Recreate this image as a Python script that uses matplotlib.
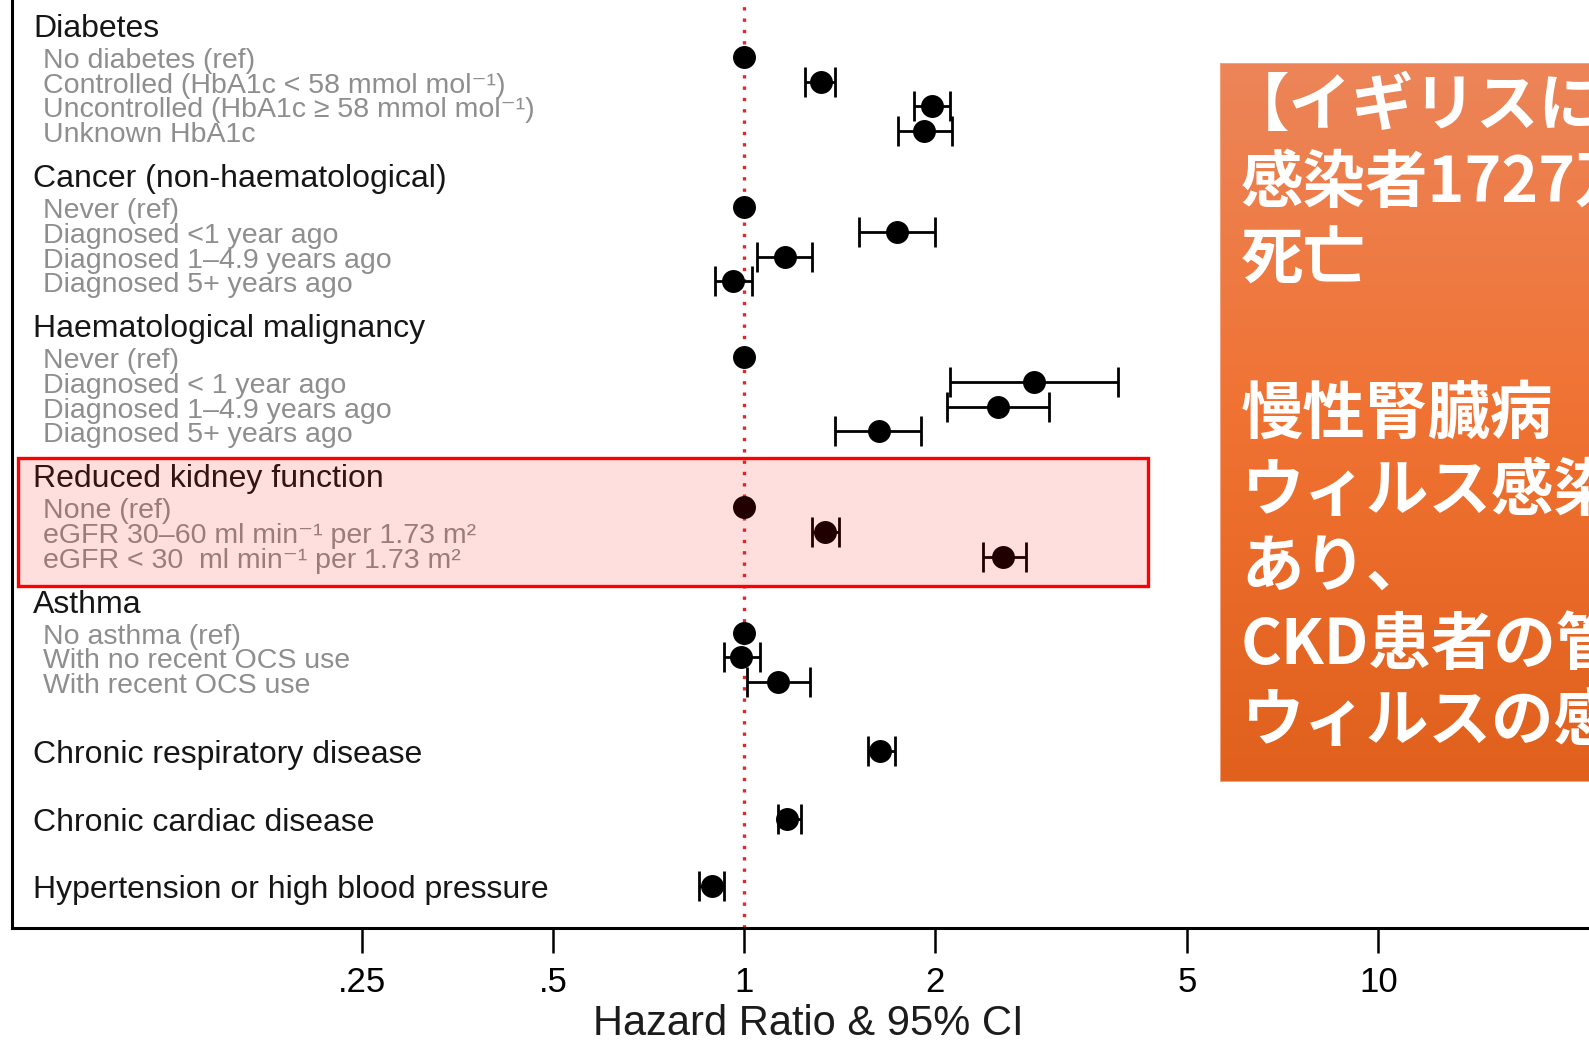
import numpy as np
import matplotlib
matplotlib.use('Agg')
import matplotlib.pyplot as plt
import matplotlib.transforms as mtransforms
from matplotlib.patches import Rectangle
from matplotlib.colors import LinearSegmentedColormap
from matplotlib.ticker import NullLocator

plt.rcParams['font.family'] = ['Liberation Sans', 'DejaVu Sans']

nan = np.nan

# hazard ratios and 95% CI per group (ref rows have no interval)
diabetes_labels = ['No diabetes (ref)', 'Controlled (HbA1c < 58 mmol mol⁻¹)',
                   'Uncontrolled (HbA1c ≥ 58 mmol mol⁻¹)', 'Unknown HbA1c']
diabetes_hr = [1.0, 1.32, 1.98, 1.92]
diabetes_lo = [nan, 1.25, 1.85, 1.75]
diabetes_hi = [nan, 1.39, 2.11, 2.13]

cancer_labels = ['Never (ref)', 'Diagnosed <1 year ago', 'Diagnosed 1–4.9 years ago',
                 'Diagnosed 5+ years ago']
cancer_hr = [1.0, 1.74, 1.16, 0.96]
cancer_lo = [nan, 1.52, 1.05, 0.90]
cancer_hi = [nan, 2.00, 1.28, 1.03]

haem_labels = ['Never (ref)', 'Diagnosed < 1 year ago', 'Diagnosed 1–4.9 years ago',
               'Diagnosed 5+ years ago']
haem_hr = [1.0, 2.86, 2.51, 1.63]
haem_lo = [nan, 2.11, 2.09, 1.39]
haem_hi = [nan, 3.88, 3.02, 1.90]

kidney_labels = ['None (ref)', 'eGFR 30–60 ml min⁻¹ per 1.73 m²',
                 'eGFR < 30  ml min⁻¹ per 1.73 m²']
kidney_hr = [1.0, 1.34, 2.56]
kidney_lo = [nan, 1.28, 2.38]
kidney_hi = [nan, 1.41, 2.78]

asthma_labels = ['No asthma (ref)', 'With no recent OCS use', 'With recent OCS use']
asthma_hr = [1.0, 0.99, 1.13]
asthma_lo = [nan, 0.93, 1.01]
asthma_hi = [nan, 1.06, 1.27]

group_titles = ['Diabetes', 'Cancer (non-haematological)', 'Haematological malignancy',
                'Reduced kidney function', 'Asthma']
single_labels = ['Chronic respiratory disease', 'Chronic cardiac disease',
                 'Hypertension or high blood pressure']
single_hr = [1.64, 1.17, 0.89]
single_lo = [1.57, 1.13, 0.85]
single_hi = [1.73, 1.23, 0.93]

xticks = [0.25, 0.5, 1, 2, 5, 10]
xtick_labels = ['.25', '.5', '1', '2', '5', '10']

jp_lines = ['【イギリスにおける研究】', '感染者1727万人のうち10926人が', '死亡', '',
            '慢性腎臓病', 'ウィルス感染による死亡リスク上昇', 'あり、',
            'CKD患者の管理には', 'ウィルスの感染予防が重要']

W, H = 1589, 1042
fig = plt.figure(figsize=(W / 100, H / 100), dpi=100)

# main axes, pixel-like y units (0 at top, 928 at the x axis)
ax_left, ax_bottom = 12, 928
ax = fig.add_axes([ax_left / W, 1 - ax_bottom / H, 1 - ax_left / W, ax_bottom / H])
ax.set_xscale('log')
ax.set_xlim(10 ** -1.1537, 10 ** 1.3318)
ax.set_ylim(ax_bottom, 0)
for s in ['top', 'right']:
    ax.spines[s].set_visible(False)
ax.spines['left'].set_linewidth(2.2)
ax.spines['bottom'].set_linewidth(2.2)
ax.set_yticks([])
ax.set_xticks(xticks)
ax.set_xticklabels(xtick_labels)
ax.xaxis.set_minor_locator(NullLocator())
ax.tick_params(axis='x', length=18, width=1.8, pad=9, labelsize=25)
for lab in ax.get_xticklabels():
    lab.set_family(['Liberation Sans Narrow', 'Liberation Sans'])

ax.axvline(1, color='#e8262a', lw=2.4, linestyle=(0, (1, 2.4)), zorder=1)

trans = mtransforms.blended_transform_factory(ax.transAxes, ax.transData)
hx = (33 - ax_left) / (W - ax_left)
sx = (43 - ax_left) / (W - ax_left)
head_color = '#161616'
sub_color = '#8e8e8e'
text_dy = 4


def draw_point(y, hr, lo, hi):
    ax.plot([hr], [y], 'o', color='black', ms=15.5, zorder=3)
    if not np.isnan(lo):
        ax.errorbar([hr], [y], xerr=[[hr - lo], [hi - hr]], fmt='none', ecolor='black',
                    elinewidth=2, capsize=11, capthick=2, zorder=3)


groups = [
    (diabetes_labels, diabetes_hr, diabetes_lo, diabetes_hi),
    (cancer_labels, cancer_hr, cancer_lo, cancer_hi),
    (haem_labels, haem_hr, haem_lo, haem_hi),
    (kidney_labels, kidney_hr, kidney_lo, kidney_hi),
    (asthma_labels, asthma_hr, asthma_lo, asthma_hi),
]

y = 25
kidney_span = None
for title, (labels, hr, lo, hi) in zip(group_titles, groups):
    ax.text(hx, y + text_dy, title, transform=trans, fontsize=23, color=head_color,
            va='center', ha='left', zorder=3)
    top = y
    for i, lab in enumerate(labels):
        yy = y + 32 + i * 24.7
        ax.text(sx, yy + text_dy, lab, transform=trans, fontsize=20.5, color=sub_color,
                va='center', ha='left', zorder=3)
        draw_point(yy, hr[i], lo[i], hi[i])
    last = y + 32 + (len(labels) - 1) * 24.7
    if title.startswith('Reduced kidney'):
        kidney_span = (top - 17, last + 29)
    y = last + 44

y = last + 69
for lab, hr, lo, hi in zip(single_labels, single_hr, single_lo, single_hi):
    ax.text(hx, y + text_dy, lab, transform=trans, fontsize=23, color=head_color,
            va='center', ha='left', zorder=3)
    draw_point(y, hr, lo, hi)
    y += 67.5

# highlight of the kidney function block
x0 = (18 - ax_left) / (W - ax_left)
x1 = (1148 - ax_left) / (W - ax_left)
ax.add_patch(Rectangle((x0, kidney_span[0]), x1 - x0, kidney_span[1] - kidney_span[0],
                       transform=trans, facecolor=(1, 0, 0, 0.13), edgecolor='#ff0000',
                       lw=2.4, zorder=5, clip_on=False))

ax.set_xlabel('Hazard Ratio & 95% CI', fontsize=30, color='#1c1c1c',
              family=['Liberation Sans Narrow', 'Liberation Sans'])
ax.xaxis.set_label_coords((808 - ax_left) / (W - ax_left), (ax_bottom - 1004) / ax_bottom)

# orange callout box on the right
bx0, by0, by1 = 1220, 63, 782
box = fig.add_axes([bx0 / W, 1 - by1 / H, (W - bx0 + 20) / W, (by1 - by0) / H], zorder=10)
cmap = LinearSegmentedColormap.from_list('box', ['#ec8559', '#f07232', '#e0601c'])
box.imshow(np.linspace(0, 1, 256)[:, None], aspect='auto', cmap=cmap,
           extent=[0, 1, 0, 1])
box.add_patch(Rectangle((0, 0), 1, 1, transform=box.transAxes, fill=False,
                        edgecolor='#f3a27c', lw=1.5))
box.set_axis_off()

for i, line in enumerate(jp_lines):
    if not line:
        continue
    yc = 106 + 77 * i
    x_start = 1227 if line.startswith('【') else 1241
    fig.text(x_start / W, 1 - yc / H, line, fontsize=45, color='white', fontweight='bold',
             family=['Noto Sans CJK JP', 'DejaVu Sans'], va='center', ha='left',
             zorder=20)

fig.savefig('out.png', dpi=100)
